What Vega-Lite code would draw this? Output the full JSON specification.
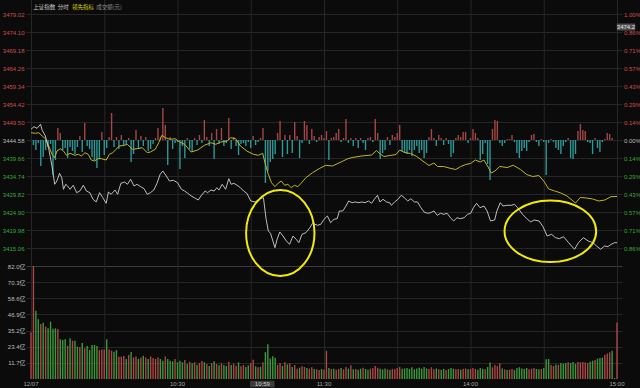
{
"$schema":"https://vega.github.io/schema/vega-lite/v6.json",
"width":596,"height":379,
"autosize":{"type":"none"},
"padding":{"left":26,"top":0,"right":18,"bottom":9},
"background":"#0b0b0b",
"config":{"view":{"stroke":null},"axis":{"labelFont":"Liberation Sans","labelFontSize":6,"ticks":false,"domain":false,"gridColor":"#262626","gridWidth":1,"labelOverlap":false}},
"datasets":{
"xt":[{"t":0,"label":"12/07"},{"t":30,"label":""},{"t":60,"label":"10:30"},{"t":90,"label":""},{"t":120,"label":"11:30"},{"t":150,"label":""},{"t":180,"label":"14:00"},{"t":210,"label":""},{"t":240,"label":"15:00"}],
"price":[{"t":0,"p":3447.5},{"t":1.2,"p":3448.21},{"t":2.5,"p":3447.78},{"t":3.9,"p":3448.87},{"t":4.6,"p":3447.23},{"t":5.9,"p":3445.67},{"t":7.3,"p":3442.04},{"t":8.6,"p":3437.47},{"t":9.7,"p":3432.47},{"t":10.6,"p":3433.37},{"t":11.7,"p":3435.48},{"t":12.6,"p":3434.28},{"t":13.3,"p":3431.11},{"t":14.2,"p":3432.47},{"t":15,"p":3432.01},{"t":16,"p":3431.11},{"t":17.3,"p":3432.2},{"t":18.7,"p":3430.18},{"t":20,"p":3430.64},{"t":21.4,"p":3432.2},{"t":22.7,"p":3430.64},{"t":24.1,"p":3430.18},{"t":25.4,"p":3428.37},{"t":26.7,"p":3427.64},{"t":28.1,"p":3430.18},{"t":29.4,"p":3428.81},{"t":30.8,"p":3427.28},{"t":31.7,"p":3430.37},{"t":32.8,"p":3429.74},{"t":34.4,"p":3430.91},{"t":35.5,"p":3429.74},{"t":36.8,"p":3432.75},{"t":38.4,"p":3433.1},{"t":39.5,"p":3432.47},{"t":40.8,"p":3433.84},{"t":42.2,"p":3432.01},{"t":43.5,"p":3432.47},{"t":44.9,"p":3431.82},{"t":46.3,"p":3431.27},{"t":47.6,"p":3429.74},{"t":48.9,"p":3430.18},{"t":50.3,"p":3430.91},{"t":51.6,"p":3432.75},{"t":52.9,"p":3435.21},{"t":54,"p":3436.11},{"t":55.4,"p":3434.74},{"t":56.7,"p":3433.37},{"t":58.3,"p":3433.57},{"t":60,"p":3432.91},{"t":61.6,"p":3431.11},{"t":62.9,"p":3430.64},{"t":64.2,"p":3430.01},{"t":65.6,"p":3429.28},{"t":66.9,"p":3428.81},{"t":68.5,"p":3428.18},{"t":69.6,"p":3429.28},{"t":71.3,"p":3430.64},{"t":72.3,"p":3430.18},{"t":73.7,"p":3430.91},{"t":75,"p":3430.64},{"t":76.1,"p":3431.54},{"t":77,"p":3430.91},{"t":78.3,"p":3432.47},{"t":79.7,"p":3431.11},{"t":81,"p":3434.0},{"t":82,"p":3432.47},{"t":83.1,"p":3432.75},{"t":84.4,"p":3432.2},{"t":85.8,"p":3431.54},{"t":87.1,"p":3430.64},{"t":88.4,"p":3430.01},{"t":90,"p":3427.91},{"t":91.8,"p":3427.64},{"t":93.8,"p":3428.54},{"t":95.2,"p":3428.81},{"t":96.3,"p":3422.91},{"t":97.2,"p":3419.71},{"t":98.1,"p":3419.08},{"t":99.9,"p":3415.15},{"t":100.8,"p":3417.44},{"t":101.9,"p":3419.44},{"t":103.2,"p":3418.34},{"t":104.6,"p":3416.98},{"t":105.9,"p":3416.07},{"t":107.3,"p":3418.34},{"t":108.6,"p":3417.44},{"t":109.7,"p":3416.51},{"t":111,"p":3418.81},{"t":112.6,"p":3419.24},{"t":114.2,"p":3420.61},{"t":115.3,"p":3421.81},{"t":117.3,"p":3421.27},{"t":118.7,"p":3421.54},{"t":120,"p":3422.91},{"t":121.4,"p":3423.81},{"t":122.7,"p":3421.98},{"t":124.1,"p":3422.91},{"t":125.4,"p":3423.07},{"t":126.3,"p":3425.18},{"t":127.7,"p":3425.18},{"t":129,"p":3426.54},{"t":130.1,"p":3427.91},{"t":131.5,"p":3427.44},{"t":132.8,"p":3427.64},{"t":134.2,"p":3427.44},{"t":135.5,"p":3427.64},{"t":136.8,"p":3427.44},{"t":138.2,"p":3427.91},{"t":139.5,"p":3427.28},{"t":140.6,"p":3428.37},{"t":141.9,"p":3429.47},{"t":142.9,"p":3427.64},{"t":144.2,"p":3428.37},{"t":145.6,"p":3427.64},{"t":146.9,"p":3427.44},{"t":147.6,"p":3426.73},{"t":148.9,"p":3427.64},{"t":150.3,"p":3428.37},{"t":151.6,"p":3429.47},{"t":152.9,"p":3428.81},{"t":154.3,"p":3427.91},{"t":155.6,"p":3428.54},{"t":157,"p":3427.64},{"t":158.3,"p":3427.64},{"t":159.7,"p":3426.08},{"t":161,"p":3424.9},{"t":162.4,"p":3424.55},{"t":163.7,"p":3424.71},{"t":165,"p":3425.18},{"t":166.4,"p":3424.0},{"t":167.7,"p":3424.55},{"t":169.1,"p":3424.27},{"t":170.4,"p":3424.55},{"t":171.8,"p":3423.34},{"t":173.1,"p":3422.44},{"t":174.5,"p":3423.34},{"t":175.8,"p":3423.07},{"t":177.4,"p":3423.34},{"t":178.8,"p":3424.27},{"t":180.1,"p":3424.55},{"t":181.2,"p":3426.08},{"t":182.5,"p":3427.28},{"t":183.9,"p":3426.08},{"t":185.5,"p":3426.54},{"t":186.8,"p":3425.18},{"t":188.2,"p":3422.44},{"t":189.9,"p":3422.72},{"t":190.8,"p":3425.18},{"t":192.2,"p":3427.44},{"t":193.3,"p":3426.54},{"t":194.9,"p":3426.73},{"t":196.7,"p":3426.73},{"t":198,"p":3427.01},{"t":199.3,"p":3426.08},{"t":201.3,"p":3424.27},{"t":203.3,"p":3422.91},{"t":204.7,"p":3422.17},{"t":206,"p":3422.72},{"t":208.1,"p":3422.44},{"t":209.7,"p":3420.88},{"t":211.4,"p":3418.34},{"t":213.2,"p":3418.81},{"t":214.8,"p":3417.88},{"t":216.4,"p":3417.61},{"t":218.1,"p":3418.15},{"t":220.2,"p":3416.51},{"t":222.6,"p":3414.71},{"t":224.2,"p":3416.51},{"t":226.2,"p":3417.88},{"t":228.2,"p":3416.98},{"t":230.2,"p":3416.51},{"t":231.6,"p":3415.61},{"t":233.3,"p":3414.71},{"t":234.9,"p":3415.61},{"t":236.3,"p":3415.42},{"t":237.6,"p":3416.07},{"t":239,"p":3416.51},{"t":240,"p":3416.51}],
"lead":[{"t":0,"p":3446.58},{"t":1.9,"p":3446.41},{"t":3.2,"p":3446.58},{"t":4.6,"p":3445.67},{"t":5.9,"p":3444.94},{"t":7.3,"p":3442.94},{"t":8.6,"p":3440.67},{"t":9.7,"p":3439.74},{"t":10.6,"p":3441.57},{"t":12,"p":3442.2},{"t":13.3,"p":3441.57},{"t":14.6,"p":3440.4},{"t":16,"p":3440.95},{"t":18,"p":3440.4},{"t":19.4,"p":3440.67},{"t":20.7,"p":3440.21},{"t":22.1,"p":3441.11},{"t":23.4,"p":3440.67},{"t":24.7,"p":3439.11},{"t":26.1,"p":3438.84},{"t":27.4,"p":3439.47},{"t":28.8,"p":3439.47},{"t":30.8,"p":3439.11},{"t":32.1,"p":3440.67},{"t":33.5,"p":3441.11},{"t":34.8,"p":3442.04},{"t":36.2,"p":3442.94},{"t":38.2,"p":3443.13},{"t":39.5,"p":3443.4},{"t":41.5,"p":3442.04},{"t":43.5,"p":3442.2},{"t":45.6,"p":3442.48},{"t":47.6,"p":3441.11},{"t":48.9,"p":3441.3},{"t":50.9,"p":3442.04},{"t":52.3,"p":3443.84},{"t":53.6,"p":3445.86},{"t":55,"p":3445.21},{"t":57,"p":3444.77},{"t":59,"p":3444.94},{"t":60.9,"p":3444.03},{"t":62.9,"p":3443.4},{"t":65.6,"p":3441.3},{"t":68.3,"p":3441.85},{"t":71,"p":3443.13},{"t":73.7,"p":3443.84},{"t":75.7,"p":3443.4},{"t":77.7,"p":3444.03},{"t":80.4,"p":3444.31},{"t":81.7,"p":3445.21},{"t":83.8,"p":3444.94},{"t":85.8,"p":3442.94},{"t":88.4,"p":3441.57},{"t":91.1,"p":3440.67},{"t":93.1,"p":3440.4},{"t":94.9,"p":3440.95},{"t":95.8,"p":3438.38},{"t":97.2,"p":3435.21},{"t":98.5,"p":3432.91},{"t":99.9,"p":3431.82},{"t":101.2,"p":3432.75},{"t":102.5,"p":3433.37},{"t":103.9,"p":3432.2},{"t":105.2,"p":3432.47},{"t":106.6,"p":3431.54},{"t":107.9,"p":3432.2},{"t":109.3,"p":3431.82},{"t":110.6,"p":3432.75},{"t":112.6,"p":3434.28},{"t":115.3,"p":3435.64},{"t":118,"p":3436.74},{"t":120.7,"p":3437.67},{"t":123.4,"p":3437.47},{"t":127,"p":3438.57},{"t":129.5,"p":3439.39},{"t":131.5,"p":3439.8},{"t":135.5,"p":3440.21},{"t":139.5,"p":3440.48},{"t":141.5,"p":3441.71},{"t":143,"p":3440.75},{"t":144.5,"p":3440.07},{"t":147,"p":3440.34},{"t":149.5,"p":3440.62},{"t":151,"p":3441.85},{"t":153,"p":3441.16},{"t":155.5,"p":3440.89},{"t":158,"p":3440.07},{"t":161,"p":3438.57},{"t":163,"p":3437.61},{"t":165,"p":3438.29},{"t":166.5,"p":3437.34},{"t":169,"p":3437.34},{"t":172,"p":3436.79},{"t":174,"p":3436.52},{"t":176,"p":3437.34},{"t":178,"p":3437.88},{"t":180,"p":3438.16},{"t":182,"p":3439.11},{"t":184,"p":3438.57},{"t":185.5,"p":3439.11},{"t":187,"p":3437.47},{"t":188.5,"p":3435.56},{"t":190,"p":3436.11},{"t":192,"p":3437.34},{"t":195,"p":3437.06},{"t":197.5,"p":3437.67},{"t":200.5,"p":3436.52},{"t":203,"p":3435.15},{"t":205.5,"p":3434.6},{"t":208,"p":3434.88},{"t":210,"p":3433.37},{"t":212,"p":3431.19},{"t":214.5,"p":3430.64},{"t":217,"p":3430.1},{"t":219.5,"p":3429.28},{"t":222,"p":3427.91},{"t":223,"p":3427.36},{"t":225,"p":3428.87},{"t":227.5,"p":3428.73},{"t":230,"p":3428.46},{"t":232.5,"p":3427.91},{"t":235,"p":3428.18},{"t":237.5,"p":3429.08},{"t":240,"p":3429.14}],
"flow":[{"t":1,"b":3443.21},{"t":2,"b":3441.85},{"t":3,"b":3443.76},{"t":4,"b":3437.47},{"t":5,"b":3439.93},{"t":6,"b":3441.85},{"t":7,"b":3442.67},{"t":8,"b":3443.49},{"t":9,"b":3435.01},{"t":10,"b":3439.11},{"t":11,"b":3447.86},{"t":12,"b":3446.49},{"t":13,"b":3441.85},{"t":14,"b":3442.39},{"t":15,"b":3439.66},{"t":16,"b":3442.67},{"t":17,"b":3441.57},{"t":18,"b":3440.75},{"t":19,"b":3442.67},{"t":20,"b":3445.67},{"t":21,"b":3441.3},{"t":22,"b":3449.23},{"t":23,"b":3442.94},{"t":24,"b":3442.12},{"t":25,"b":3439.93},{"t":26,"b":3439.11},{"t":27,"b":3436.93},{"t":28,"b":3439.39},{"t":29,"b":3446.77},{"t":30,"b":3440.48},{"t":31,"b":3442.39},{"t":32,"b":3445.4},{"t":33,"b":3451.96},{"t":34,"b":3442.67},{"t":35,"b":3445.4},{"t":36,"b":3442.12},{"t":37,"b":3445.95},{"t":38,"b":3443.21},{"t":39,"b":3443.49},{"t":40,"b":3445.13},{"t":41,"b":3438.57},{"t":42,"b":3440.75},{"t":43,"b":3447.31},{"t":44,"b":3442.12},{"t":45,"b":3445.67},{"t":46,"b":3442.94},{"t":47,"b":3445.4},{"t":48,"b":3441.57},{"t":49,"b":3442.12},{"t":50,"b":3443.49},{"t":51,"b":3445.13},{"t":52,"b":3447.86},{"t":53,"b":3445.4},{"t":54,"b":3453.33},{"t":55,"b":3448.68},{"t":56,"b":3437.75},{"t":57,"b":3445.4},{"t":58,"b":3442.12},{"t":59,"b":3443.76},{"t":60,"b":3444.03},{"t":61,"b":3436.65},{"t":62,"b":3442.94},{"t":63,"b":3439.66},{"t":64,"b":3445.13},{"t":65,"b":3442.12},{"t":66,"b":3441.3},{"t":67,"b":3445.13},{"t":68,"b":3443.21},{"t":69,"b":3445.95},{"t":70,"b":3443.76},{"t":71,"b":3450.05},{"t":72,"b":3445.4},{"t":73,"b":3442.94},{"t":74,"b":3446.49},{"t":75,"b":3439.39},{"t":76,"b":3447.59},{"t":77,"b":3443.49},{"t":78,"b":3447.86},{"t":79,"b":3442.94},{"t":80,"b":3443.76},{"t":81,"b":3450.59},{"t":82,"b":3442.12},{"t":83,"b":3445.4},{"t":84,"b":3442.94},{"t":85,"b":3440.48},{"t":86,"b":3443.49},{"t":87,"b":3443.76},{"t":88,"b":3442.94},{"t":89,"b":3444.03},{"t":90,"b":3442.39},{"t":91,"b":3445.67},{"t":92,"b":3443.21},{"t":93,"b":3444.03},{"t":94,"b":3445.13},{"t":95,"b":3447.86},{"t":96,"b":3432.83},{"t":97,"b":3436.11},{"t":98,"b":3438.57},{"t":99,"b":3439.39},{"t":100,"b":3440.75},{"t":101,"b":3446.49},{"t":102,"b":3449.77},{"t":103,"b":3439.93},{"t":104,"b":3445.95},{"t":105,"b":3440.75},{"t":106,"b":3445.95},{"t":107,"b":3441.03},{"t":108,"b":3449.5},{"t":109,"b":3445.67},{"t":110,"b":3439.66},{"t":111,"b":3443.76},{"t":112,"b":3449.77},{"t":113,"b":3448.68},{"t":114,"b":3443.49},{"t":115,"b":3447.59},{"t":116,"b":3445.67},{"t":117,"b":3444.03},{"t":118,"b":3445.4},{"t":119,"b":3445.95},{"t":120,"b":3445.13},{"t":121,"b":3447.04},{"t":122,"b":3439.11},{"t":123,"b":3445.13},{"t":124,"b":3445.4},{"t":125,"b":3446.49},{"t":126,"b":3447.59},{"t":127,"b":3444.03},{"t":128,"b":3445.13},{"t":129,"b":3450.32},{"t":130,"b":3443.76},{"t":131,"b":3445.13},{"t":132,"b":3442.94},{"t":133,"b":3445.13},{"t":134,"b":3442.39},{"t":135,"b":3445.13},{"t":136,"b":3443.76},{"t":137,"b":3441.85},{"t":138,"b":3445.13},{"t":139,"b":3445.4},{"t":140,"b":3444.03},{"t":141,"b":3450.32},{"t":142,"b":3446.49},{"t":143,"b":3439.39},{"t":144,"b":3441.03},{"t":145,"b":3441.85},{"t":146,"b":3445.4},{"t":147,"b":3443.21},{"t":148,"b":3445.95},{"t":149,"b":3445.4},{"t":150,"b":3446.49},{"t":151,"b":3448.68},{"t":152,"b":3441.57},{"t":153,"b":3441.03},{"t":154,"b":3440.75},{"t":155,"b":3441.85},{"t":156,"b":3440.21},{"t":157,"b":3441.85},{"t":158,"b":3442.94},{"t":159,"b":3441.03},{"t":160,"b":3441.85},{"t":161,"b":3439.66},{"t":162,"b":3441.03},{"t":163,"b":3445.4},{"t":164,"b":3447.59},{"t":165,"b":3445.13},{"t":166,"b":3442.94},{"t":167,"b":3445.95},{"t":168,"b":3445.13},{"t":169,"b":3443.21},{"t":170,"b":3445.13},{"t":171,"b":3443.49},{"t":172,"b":3439.93},{"t":173,"b":3441.03},{"t":174,"b":3445.13},{"t":175,"b":3445.95},{"t":176,"b":3445.4},{"t":177,"b":3446.77},{"t":178,"b":3446.77},{"t":179,"b":3443.76},{"t":180,"b":3445.13},{"t":181,"b":3447.59},{"t":182,"b":3446.49},{"t":183,"b":3445.13},{"t":184,"b":3439.11},{"t":185,"b":3440.75},{"t":186,"b":3443.76},{"t":187,"b":3438.02},{"t":188,"b":3433.65},{"t":189,"b":3447.59},{"t":190,"b":3450.05},{"t":191,"b":3449.77},{"t":192,"b":3443.76},{"t":193,"b":3442.94},{"t":194,"b":3443.76},{"t":195,"b":3444.85},{"t":196,"b":3444.85},{"t":197,"b":3445.95},{"t":198,"b":3444.03},{"t":199,"b":3441.03},{"t":200,"b":3439.66},{"t":201,"b":3441.57},{"t":202,"b":3442.39},{"t":203,"b":3441.57},{"t":204,"b":3444.03},{"t":205,"b":3445.95},{"t":206,"b":3446.22},{"t":207,"b":3444.03},{"t":208,"b":3442.94},{"t":209,"b":3444.85},{"t":210,"b":3444.03},{"t":211,"b":3435.01},{"t":212,"b":3443.76},{"t":213,"b":3444.85},{"t":214,"b":3444.03},{"t":215,"b":3442.39},{"t":216,"b":3441.85},{"t":217,"b":3440.75},{"t":218,"b":3442.94},{"t":219,"b":3444.03},{"t":220,"b":3445.13},{"t":221,"b":3439.66},{"t":222,"b":3439.39},{"t":223,"b":3440.75},{"t":224,"b":3447.04},{"t":225,"b":3448.95},{"t":226,"b":3447.31},{"t":227,"b":3447.04},{"t":228,"b":3444.03},{"t":229,"b":3443.76},{"t":230,"b":3440.75},{"t":231,"b":3445.13},{"t":232,"b":3442.39},{"t":233,"b":3441.3},{"t":234,"b":3444.03},{"t":235,"b":3444.85},{"t":236,"b":3446.49},{"t":237,"b":3446.22},{"t":238,"b":3445.13}],
"vol":[{"t":0,"v":34,"d":"u"},{"t":1,"v":82,"d":"u"},{"t":2,"v":49.6,"d":"d"},{"t":3,"v":43.4,"d":"d"},{"t":4,"v":39.9,"d":"u"},{"t":5,"v":40.9,"d":"d"},{"t":6,"v":38,"d":"u"},{"t":7,"v":36.8,"d":"d"},{"t":8,"v":41.6,"d":"d"},{"t":9,"v":36.5,"d":"d"},{"t":10,"v":36.8,"d":"d"},{"t":11,"v":36.3,"d":"u"},{"t":12,"v":28.8,"d":"d"},{"t":13,"v":28.3,"d":"d"},{"t":14,"v":28.8,"d":"d"},{"t":15,"v":24,"d":"u"},{"t":16,"v":29.5,"d":"d"},{"t":17,"v":27.8,"d":"u"},{"t":18,"v":27.8,"d":"d"},{"t":19,"v":23.5,"d":"d"},{"t":20,"v":23,"d":"u"},{"t":21,"v":26.1,"d":"d"},{"t":22,"v":22.3,"d":"u"},{"t":23,"v":24,"d":"d"},{"t":24,"v":21,"d":"d"},{"t":25,"v":24.7,"d":"d"},{"t":26,"v":24.7,"d":"d"},{"t":27,"v":24,"d":"d"},{"t":28,"v":21,"d":"u"},{"t":29,"v":21.5,"d":"u"},{"t":30,"v":21.5,"d":"u"},{"t":31,"v":28.8,"d":"d"},{"t":32,"v":21.5,"d":"u"},{"t":33,"v":20.6,"d":"u"},{"t":34,"v":19.8,"d":"d"},{"t":35,"v":21,"d":"d"},{"t":36,"v":16.2,"d":"u"},{"t":37,"v":16.2,"d":"u"},{"t":38,"v":16.7,"d":"u"},{"t":39,"v":14.5,"d":"d"},{"t":40,"v":17.4,"d":"u"},{"t":41,"v":19.6,"d":"d"},{"t":42,"v":15.7,"d":"u"},{"t":43,"v":16.4,"d":"u"},{"t":44,"v":14.5,"d":"d"},{"t":45,"v":15.7,"d":"u"},{"t":46,"v":16.9,"d":"d"},{"t":47,"v":15.7,"d":"u"},{"t":48,"v":14.5,"d":"d"},{"t":49,"v":16.4,"d":"u"},{"t":50,"v":15.2,"d":"u"},{"t":51,"v":14.5,"d":"u"},{"t":52,"v":15.7,"d":"u"},{"t":53,"v":14.5,"d":"d"},{"t":54,"v":13.3,"d":"d"},{"t":55,"v":16.4,"d":"u"},{"t":56,"v":14.5,"d":"d"},{"t":57,"v":13.3,"d":"d"},{"t":58,"v":12.8,"d":"d"},{"t":59,"v":14.5,"d":"u"},{"t":60,"v":12.1,"d":"d"},{"t":61,"v":13.3,"d":"d"},{"t":62,"v":12.1,"d":"d"},{"t":63,"v":13.8,"d":"u"},{"t":64,"v":10.9,"d":"d"},{"t":65,"v":12.6,"d":"u"},{"t":66,"v":11.4,"d":"d"},{"t":67,"v":12.1,"d":"u"},{"t":68,"v":10.2,"d":"d"},{"t":69,"v":11.6,"d":"u"},{"t":70,"v":13.1,"d":"u"},{"t":71,"v":12.1,"d":"d"},{"t":72,"v":10.9,"d":"u"},{"t":73,"v":9.4,"d":"d"},{"t":74,"v":11.6,"d":"u"},{"t":75,"v":12.8,"d":"d"},{"t":76,"v":10.9,"d":"u"},{"t":77,"v":9.9,"d":"d"},{"t":78,"v":11.4,"d":"u"},{"t":79,"v":10.2,"d":"d"},{"t":80,"v":9.4,"d":"d"},{"t":81,"v":12.6,"d":"u"},{"t":82,"v":10.2,"d":"d"},{"t":83,"v":11.1,"d":"u"},{"t":84,"v":9.7,"d":"u"},{"t":85,"v":12.1,"d":"d"},{"t":86,"v":9.2,"d":"u"},{"t":87,"v":10.2,"d":"u"},{"t":88,"v":8.7,"d":"d"},{"t":89,"v":9.9,"d":"d"},{"t":90,"v":11.6,"d":"u"},{"t":91,"v":14,"d":"u"},{"t":92,"v":9.2,"d":"d"},{"t":93,"v":8.5,"d":"u"},{"t":94,"v":8.7,"d":"d"},{"t":95,"v":12.1,"d":"u"},{"t":96,"v":19.5,"d":"d"},{"t":97,"v":25.2,"d":"d"},{"t":98,"v":14.8,"d":"d"},{"t":99,"v":16.5,"d":"d"},{"t":100,"v":15.5,"d":"d"},{"t":101,"v":10.2,"d":"u"},{"t":102,"v":11.6,"d":"u"},{"t":103,"v":9.4,"d":"d"},{"t":104,"v":12.1,"d":"u"},{"t":105,"v":10.6,"d":"d"},{"t":106,"v":11.4,"d":"u"},{"t":107,"v":8.7,"d":"d"},{"t":108,"v":10.2,"d":"u"},{"t":109,"v":7.5,"d":"u"},{"t":110,"v":8.2,"d":"d"},{"t":111,"v":9.2,"d":"u"},{"t":112,"v":8.7,"d":"u"},{"t":113,"v":8,"d":"d"},{"t":114,"v":7.5,"d":"u"},{"t":115,"v":8.5,"d":"u"},{"t":116,"v":7.3,"d":"d"},{"t":117,"v":7,"d":"u"},{"t":118,"v":6.5,"d":"u"},{"t":119,"v":7.3,"d":"d"},{"t":120,"v":6.8,"d":"u"},{"t":121,"v":20.5,"d":"u"},{"t":122,"v":8,"d":"d"},{"t":123,"v":7.3,"d":"u"},{"t":124,"v":7.5,"d":"d"},{"t":125,"v":6.8,"d":"u"},{"t":126,"v":7.3,"d":"u"},{"t":127,"v":8,"d":"d"},{"t":128,"v":7,"d":"u"},{"t":129,"v":8.7,"d":"u"},{"t":130,"v":7.5,"d":"d"},{"t":131,"v":10,"d":"u"},{"t":132,"v":7,"d":"d"},{"t":133,"v":7.3,"d":"u"},{"t":134,"v":6.8,"d":"d"},{"t":135,"v":7.5,"d":"d"},{"t":136,"v":8.2,"d":"u"},{"t":137,"v":7.3,"d":"d"},{"t":138,"v":6.8,"d":"d"},{"t":139,"v":7.5,"d":"u"},{"t":140,"v":8,"d":"u"},{"t":141,"v":9.4,"d":"u"},{"t":142,"v":8.2,"d":"u"},{"t":143,"v":7.5,"d":"d"},{"t":144,"v":7,"d":"d"},{"t":145,"v":7.7,"d":"d"},{"t":146,"v":7,"d":"u"},{"t":147,"v":6.5,"d":"d"},{"t":148,"v":7.3,"d":"u"},{"t":149,"v":7,"d":"u"},{"t":150,"v":8,"d":"u"},{"t":151,"v":8.7,"d":"u"},{"t":152,"v":7.5,"d":"d"},{"t":153,"v":7.7,"d":"d"},{"t":154,"v":8,"d":"d"},{"t":155,"v":7.3,"d":"d"},{"t":156,"v":8.5,"d":"d"},{"t":157,"v":7,"d":"d"},{"t":158,"v":7.7,"d":"d"},{"t":159,"v":8.2,"d":"d"},{"t":160,"v":7.5,"d":"d"},{"t":161,"v":8.7,"d":"d"},{"t":162,"v":7.7,"d":"d"},{"t":163,"v":7.3,"d":"u"},{"t":164,"v":8.5,"d":"u"},{"t":165,"v":7,"d":"u"},{"t":166,"v":7.7,"d":"d"},{"t":167,"v":7,"d":"u"},{"t":168,"v":6.8,"d":"d"},{"t":169,"v":7.3,"d":"d"},{"t":170,"v":6.5,"d":"u"},{"t":171,"v":7.3,"d":"d"},{"t":172,"v":8,"d":"d"},{"t":173,"v":7.5,"d":"d"},{"t":174,"v":7,"d":"u"},{"t":175,"v":7.3,"d":"u"},{"t":176,"v":6.8,"d":"d"},{"t":177,"v":7.5,"d":"u"},{"t":178,"v":7.7,"d":"u"},{"t":179,"v":7,"d":"d"},{"t":180,"v":7.3,"d":"u"},{"t":181,"v":8,"d":"u"},{"t":182,"v":7.3,"d":"u"},{"t":183,"v":6.8,"d":"d"},{"t":184,"v":8,"d":"d"},{"t":185,"v":7.5,"d":"d"},{"t":186,"v":7,"d":"u"},{"t":187,"v":8.7,"d":"d"},{"t":188,"v":11.9,"d":"d"},{"t":189,"v":8.5,"d":"u"},{"t":190,"v":10.2,"d":"u"},{"t":191,"v":9.4,"d":"u"},{"t":192,"v":11.4,"d":"u"},{"t":193,"v":7.7,"d":"d"},{"t":194,"v":7,"d":"u"},{"t":195,"v":6.5,"d":"d"},{"t":196,"v":6.8,"d":"u"},{"t":197,"v":7.3,"d":"u"},{"t":198,"v":6.5,"d":"d"},{"t":199,"v":8,"d":"d"},{"t":200,"v":8.5,"d":"d"},{"t":201,"v":7.7,"d":"d"},{"t":202,"v":7.3,"d":"d"},{"t":203,"v":8,"d":"d"},{"t":204,"v":7,"d":"u"},{"t":205,"v":7.5,"d":"u"},{"t":206,"v":8,"d":"u"},{"t":207,"v":7.3,"d":"d"},{"t":208,"v":7,"d":"d"},{"t":209,"v":7.3,"d":"u"},{"t":210,"v":8,"d":"d"},{"t":211,"v":14.3,"d":"d"},{"t":212,"v":14.5,"d":"d"},{"t":213,"v":10.2,"d":"u"},{"t":214,"v":9.4,"d":"u"},{"t":215,"v":10.6,"d":"d"},{"t":216,"v":10.2,"d":"u"},{"t":217,"v":11.6,"d":"d"},{"t":218,"v":11.1,"d":"d"},{"t":219,"v":11.6,"d":"d"},{"t":220,"v":12.1,"d":"u"},{"t":221,"v":11.6,"d":"d"},{"t":222,"v":12.3,"d":"d"},{"t":223,"v":11.1,"d":"d"},{"t":224,"v":12.3,"d":"u"},{"t":225,"v":12.1,"d":"u"},{"t":226,"v":12.3,"d":"u"},{"t":227,"v":11.9,"d":"u"},{"t":228,"v":11.6,"d":"u"},{"t":229,"v":12.6,"d":"d"},{"t":230,"v":13.3,"d":"d"},{"t":231,"v":13.8,"d":"u"},{"t":232,"v":14.8,"d":"d"},{"t":233,"v":15.2,"d":"d"},{"t":234,"v":15.5,"d":"d"},{"t":235,"v":17.4,"d":"u"},{"t":236,"v":18.6,"d":"u"},{"t":237,"v":19.3,"d":"u"},{"t":238,"v":20.6,"d":"d"},{"t":239,"v":0.8,"d":"d"},{"t":240,"v":41,"d":"u"}],
"ell":[{"id":"a","t":102.1,"p":3419.16},{"id":"b","t":212.7,"p":3419.63}],
"legend":[{"label":"上证指数","t":0.9,"p":3481.0},{"label":"分时","t":11,"p":3481.0},{"label":"领先指标","t":16.8,"p":3481.0},{"label":"成交额(元)","t":26.7,"p":3481.0}],
"xh":[{"t":89,"label":"10:59"}],
"ph":[{"t":240,"p":3474.2,"label":"3474.2"}]
},
"resolve":{"scale":{"y":"independent","color":"independent"},"axis":{"y":"independent"}},
"layer":[
{
"data":{"name":"xt"},
"mark":{"type":"rule","color":"#262626","strokeWidth":1,"xOffset":0.5},
"encoding":{"x":{"field":"t","type":"quantitative","scale":{"domain":[0,240],"nice":false,"zero":false},"axis":null}}
},
{
"data":{"name":"flow"},
"mark":{"type":"bar","size":1.4},
"encoding":{
"x":{"field":"t","type":"quantitative","scale":{"domain":[0,240],"nice":false,"zero":false},"axis":null},
"y":{"field":"b","type":"quantitative","title":null,"scale":{"domain":[3410.14,3482.85],"range":[266,0],"nice":false,"zero":false},
"axis":{"orient":"right","grid":false,"labelPadding":1.5,"labelAlign":"left","values":[3415.06,3419.98,3424.9,3429.82,3434.74,3439.66,3444.58,3449.5,3454.42,3459.34,3464.26,3469.18,3474.1,3479.02],
"labelExpr":"format(abs(datum.value-3444.58)/3444.58*100,'.2f')+'%'",
"labelColor":{"condition":[{"test":"datum.value > 3445","value":"#d24b4b"},{"test":"datum.value > 3444","value":"#bdbdbd"}],"value":"#3aa83a"}}},
"y2":{"datum":3444.58},
"color":{"condition":{"test":"datum.b >= 3444.58","value":"#a54646"},"value":"#2c9898"}
}
},
{
"encoding":{
"x":{"field":"t","type":"quantitative","scale":{"domain":[0,240],"nice":false,"zero":false},"axis":null},
"y":{"field":"p","type":"quantitative","title":null,"scale":{"domain":[3410.14,3482.85],"range":[266,0],"nice":false,"zero":false},
"axis":{"orient":"left","grid":true,"labelPadding":2,"values":[3415.06,3419.98,3424.9,3429.82,3434.74,3439.66,3444.58,3449.5,3454.42,3459.34,3464.26,3469.18,3474.1,3479.02],"format":".2f",
"labelColor":{"condition":[{"test":"datum.value > 3445","value":"#d24b4b"},{"test":"datum.value > 3444","value":"#bdbdbd"}],"value":"#3aa83a"}}}
},
"layer":[
{"data":{"name":"lead"},"mark":{"type":"line","color":"#bdb52c","strokeWidth":1}},
{"data":{"name":"price"},"mark":{"type":"line","color":"#d0d0d0","strokeWidth":0.9}},
{"data":{"name":"ell"},"mark":{"type":"point","filled":false,"stroke":"#f2ea0a","strokeWidth":2,"opacity":1,"size":8391},
"encoding":{"shape":{"field":"id","type":"nominal","legend":null,"scale":{"domain":["a","b"],"range":["M0,-0.9389C0.4124,-0.9389 0.7467,-0.5185 0.7467,0C0.7467,0.5185 0.4124,0.9389 0,0.9389C-0.4124,0.9389 -0.7467,0.5185 -0.7467,0C-0.7467,-0.5185 -0.4124,-0.9389 0,-0.9389Z","M0,-0.6725C0.5523,-0.6725 1,-0.3714 1,0C1,0.3714 0.5523,0.6725 0,0.6725C-0.5523,0.6725 -1,0.3714 -1,0C-1,-0.3714 -0.5523,-0.6725 0,-0.6725Z"]}}}},
{"data":{"name":"legend"},"mark":{"type":"text","align":"left","baseline":"middle","font":"Noto Sans CJK SC","fontSize":5.5},
"encoding":{"text":{"field":"label"},"color":{"condition":[{"test":"datum.label=='领先指标'","value":"#dcd400"},{"test":"datum.label=='成交额(元)'","value":"#8c8c8c"}],"value":"#cfcfcf"}}},
{"data":{"name":"ph"},"mark":{"type":"point","filled":true,"color":"#4e4e4e","opacity":1,"size":339,"xOffset":9,"yOffset":-4.6,"shape":"M-1,-0.38L1,-0.38L1,0.38L-1,0.38Z"}},
{"data":{"name":"ph"},"mark":{"type":"text","align":"center","baseline":"middle","font":"Liberation Sans","fontSize":6,"color":"#e6e6e6","dx":9,"dy":-4.6},"encoding":{"text":{"field":"label"}}}
]
},
{
"layer":[
{"data":{"name":"vol"},"mark":{"type":"bar","size":1.4},
"encoding":{
"x":{"field":"t","type":"quantitative","scale":{"domain":[0,240],"nice":false,"zero":false},"axis":null},
"y":{"field":"v","type":"quantitative","title":null,"scale":{"domain":[0,82.04],"range":[379,266],"nice":false,"zero":true},
"axis":{"orient":"left","grid":true,"labelPadding":1,"labelColor":"#bdbdbd","labelFont":"Liberation Sans, Noto Sans CJK SC","values":[11.72,23.44,35.16,46.88,58.6,70.32,82.04],
"labelExpr":"format(datum.value,'.1f')+'亿'",
"gridColor":{"condition":{"test":"datum.value > 82","value":"#3c3c3c"},"value":"#262626"}}},
"color":{"condition":{"test":"datum.d=='u'","value":"#ad4646"},"value":"#3a9a3a"}}},
{"data":{"name":"xt"},"mark":{"type":"text","align":"center","baseline":"middle","font":"Liberation Sans","fontSize":6,"color":"#a4a4a4","dy":5},
"encoding":{"x":{"field":"t","type":"quantitative","axis":null},"y":{"datum":0},"text":{"field":"label"}}},
{"data":{"name":"xh"},"mark":{"type":"point","filled":true,"color":"#3c3c3c","opacity":1,"size":595,"xOffset":14,"yOffset":5,"shape":"M-1,-0.27L1,-0.27L1,0.27L-1,0.27Z"},
"encoding":{"x":{"field":"t","type":"quantitative","axis":null},"y":{"datum":0}}},
{"data":{"name":"xh"},"mark":{"type":"text","align":"center","baseline":"middle","font":"Liberation Sans","fontSize":6,"color":"#d0d0d0","dx":14,"dy":5},
"encoding":{"x":{"field":"t","type":"quantitative","axis":null},"y":{"datum":0},"text":{"field":"label"}}}
]
}
]
}
